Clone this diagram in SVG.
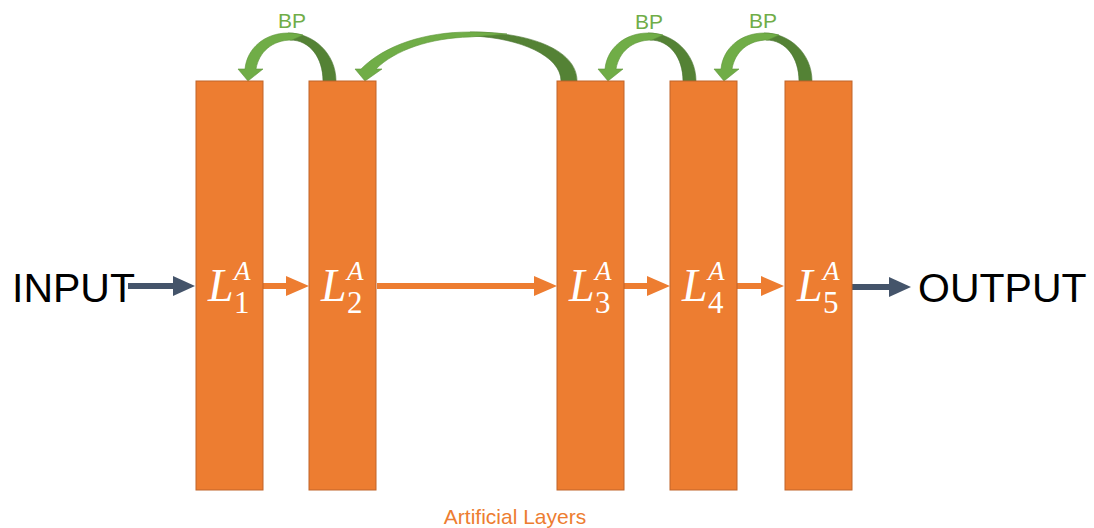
<svg xmlns="http://www.w3.org/2000/svg" width="1094" height="528" viewBox="0 0 1094 528">
  <style>
    .layer { fill: #ED7D31; stroke: #C0652A; stroke-width: 1; }
    .lbl { font-family: "Liberation Serif", serif; fill: #ffffff; }
    .sym { font-style: italic; }
    .io { font-family: "Liberation Sans", Arial, sans-serif; font-size: 41px; fill: #000000; }
    .bp { font-family: "Liberation Sans", Arial, sans-serif; font-size: 21px; fill: #70AD47; text-anchor: middle; }
    .cap { font-family: "Liberation Sans", Arial, sans-serif; font-size: 21px; fill: #ED7D31; text-anchor: middle; }
    .fwd { stroke: #ED7D31; stroke-width: 6; fill: none; }
    .ioarrow { stroke: #44546A; stroke-width: 6; fill: none; }
    .lite { fill: #70AD47; stroke: #5E9539; stroke-width: 0.6; }
    .dark { fill: #548235; stroke: #4A7430; stroke-width: 0.6; }
  </style>
  <defs>
    <marker id="headOrange" markerUnits="userSpaceOnUse" markerWidth="24" markerHeight="21" refX="0" refY="10" orient="auto">
      <path d="M0,0 L23,10 L0,20 Z" fill="#ED7D31"/>
    </marker>
    <marker id="headSlate" markerUnits="userSpaceOnUse" markerWidth="24" markerHeight="21" refX="0" refY="10" orient="auto">
      <path d="M0,0 L22,10 L0,20 Z" fill="#44546A"/>
    </marker>
    <!-- short curved back-propagation arrow, tip at local x=0 -->
    <g id="bpShort">
      <path class="dark" d="M88,81 C88,54 66,33 40,33 L42,40 C62,40 75,58 75,81 Z"/>
      <path class="lite" d="M-3,69 C-1,48 17,33 40,33 C46,33 51,34 55,35 L44,40 C24,40 11,52 8,69 L15,69 L0,81 L-10,69 Z"/>
    </g>
  </defs>

  <!-- connectors -->
  <g id="connectors">
    <line class="ioarrow" x1="128" y1="286" x2="173" y2="286" marker-end="url(#headSlate)"/>
    <line class="fwd" x1="263" y1="286" x2="286" y2="286" marker-end="url(#headOrange)"/>
    <line class="fwd" x1="377" y1="286" x2="534" y2="286" marker-end="url(#headOrange)"/>
    <line class="fwd" x1="624" y1="286" x2="647" y2="286" marker-end="url(#headOrange)"/>
    <line class="fwd" x1="737" y1="286" x2="761" y2="286" marker-end="url(#headOrange)"/>
    <line class="ioarrow" x1="852" y1="287" x2="889" y2="287" marker-end="url(#headSlate)"/>

    <!-- backward (BP) arrows -->
    <use href="#bpShort" x="248" y="0"/>
    <g id="bpLong">
      <path class="dark" d="M577,81 C577,50 530,32 470,32 L472,36 C520,38 561,56 561,81 Z"/>
      <path class="lite" d="M361,69 C385,45 425,32 470,32 C485,32 497,33 507,34 L470,37 C430,38 395,50 376,69 L382,69 L365,81 L355,69 Z"/>
    </g>
    <use href="#bpShort" x="608" y="0"/>
    <use href="#bpShort" x="724" y="0"/>
  </g>

  <!-- layers: L with superscript A and layer index -->
  <g id="layer1">
    <rect class="layer" x="196" y="81" width="67" height="409"/>
    <text class="lbl" x="208" y="301"><tspan class="sym" font-size="46">L</tspan><tspan class="sym" x="234" y="280" font-size="27">A</tspan><tspan x="234" y="313" font-size="31">1</tspan></text>
  </g>
  <g id="layer2">
    <rect class="layer" x="309" y="81" width="67" height="409"/>
    <text class="lbl" x="321" y="301"><tspan class="sym" font-size="46">L</tspan><tspan class="sym" x="347" y="280" font-size="27">A</tspan><tspan x="347" y="313" font-size="31">2</tspan></text>
  </g>
  <g id="layer3">
    <rect class="layer" x="557" y="81" width="67" height="409"/>
    <text class="lbl" x="569" y="301"><tspan class="sym" font-size="46">L</tspan><tspan class="sym" x="595" y="280" font-size="27">A</tspan><tspan x="595" y="313" font-size="31">3</tspan></text>
  </g>
  <g id="layer4">
    <rect class="layer" x="670" y="81" width="67" height="409"/>
    <text class="lbl" x="682" y="301"><tspan class="sym" font-size="46">L</tspan><tspan class="sym" x="708" y="280" font-size="27">A</tspan><tspan x="708" y="313" font-size="31">4</tspan></text>
  </g>
  <g id="layer5">
    <rect class="layer" x="785" y="81" width="67" height="409"/>
    <text class="lbl" x="797" y="301"><tspan class="sym" font-size="46">L</tspan><tspan class="sym" x="823" y="280" font-size="27">A</tspan><tspan x="823" y="313" font-size="31">5</tspan></text>
  </g>

  <!-- endpoints and labels -->
  <g id="input"><text class="io" x="12" y="302">INPUT</text></g>
  <g id="output"><text class="io" x="918" y="302">OUTPUT</text></g>
  <g id="bp-labels">
    <text class="bp" x="292" y="28">BP</text>
    <text class="bp" x="649" y="29">BP</text>
    <text class="bp" x="763" y="28">BP</text>
  </g>
  <g id="caption"><text class="cap" x="515" y="524">Artificial Layers</text></g>
</svg>
